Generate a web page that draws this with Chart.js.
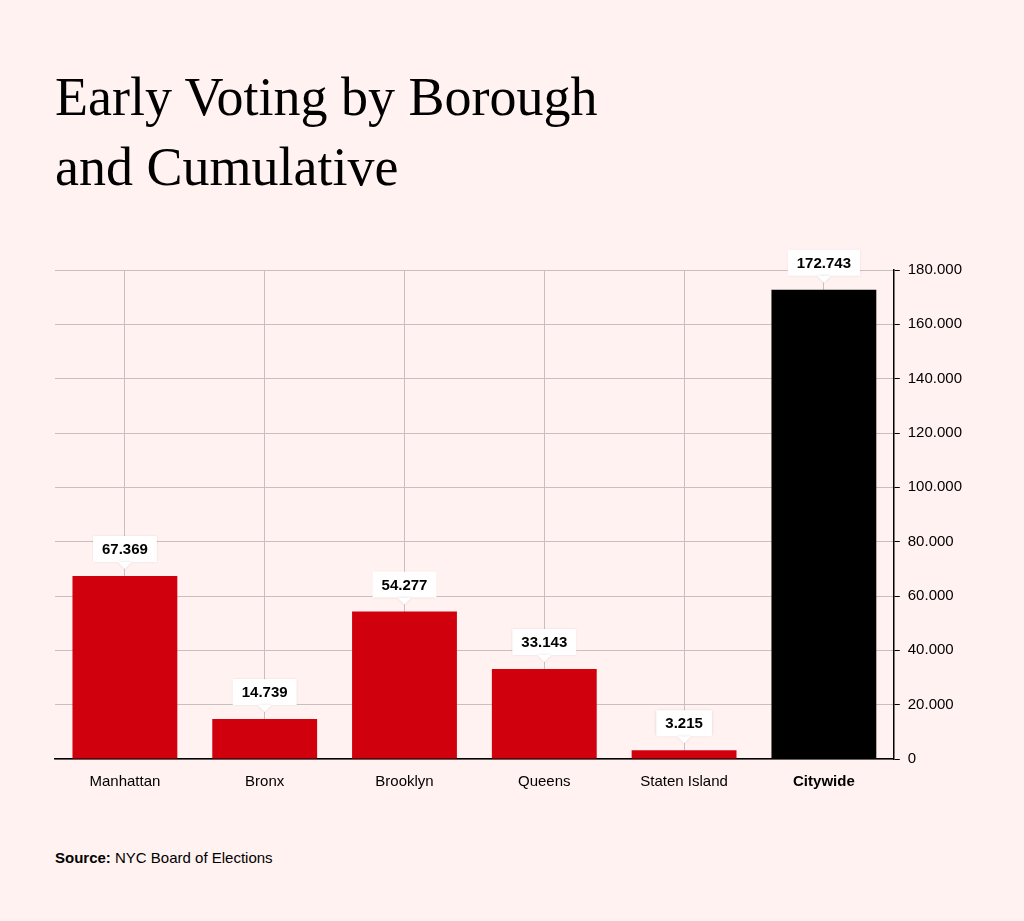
<!DOCTYPE html>
<html>
<head>
<meta charset="utf-8">
<script src="https://cdn.jsdelivr.net/npm/chart.js@4"></script>
<style>
  body { margin: 0; background: #fff2f1; width: 1024px; height: 921px; position: relative; font-family: "Liberation Sans", Arial, sans-serif; }
  h1 { position: absolute; left: 55px; top: 62px; margin: 0; font-family: "Liberation Serif", "Times New Roman", serif; font-weight: normal; font-size: 54px; line-height: 70px; color: #000; }
  #wrap { position: absolute; left: 40px; top: 240px; width: 930px; height: 565px; }
  .source { position: absolute; left: 55px; top: 849px; font-size: 15px; color: #000; }
</style>
</head>
<body>
<h1>Early Voting by Borough<br>and Cumulative</h1>
<div id="wrap"><canvas id="chart"></canvas></div>
<div class="source"><b>Source:</b> NYC Board of Elections</div>
<script>
const categories = ['Manhattan', 'Bronx', 'Brooklyn', 'Queens', 'Staten Island', 'Citywide'];
const votes = [67369, 14739, 54277, 33143, 3215, 172743];
const barColors = ['#d0000c', '#d0000c', '#d0000c', '#d0000c', '#d0000c', '#000000'];

const fmt = v => v.toLocaleString('de-DE');

const labelBoxes = {
    id: 'labelBoxes',
    afterDatasetsDraw(chart) {
        const ctx = chart.ctx;
        const meta = chart.getDatasetMeta(0);
        ctx.save();
        ctx.font = 'bold 15px "Liberation Sans", Arial, sans-serif';
        ctx.textAlign = 'center';
        ctx.textBaseline = 'middle';
        meta.data.forEach((bar, i) => {
            const text = fmt(votes[i]);
            const w = ctx.measureText(text).width + 18;
            const h = 26;
            const x = bar.x;
            const yb = bar.y - 14;
            ctx.fillStyle = '#fff';
            ctx.shadowColor = 'rgba(0,0,0,0.12)';
            ctx.shadowBlur = 3;
            ctx.beginPath();
            ctx.rect(x - w / 2, yb - h, w, h);
            ctx.fill();
            ctx.beginPath();
            ctx.moveTo(x - 7, yb);
            ctx.lineTo(x, yb + 7);
            ctx.lineTo(x + 7, yb);
            ctx.fill();
            ctx.shadowBlur = 0;
            ctx.fillStyle = '#000';
            ctx.fillText(text, x, yb - h / 2 + 1);
        });
        ctx.restore();
    }
};

new Chart(document.getElementById('chart'), {
    type: 'bar',
    data: {
        labels: categories,
        datasets: [{
            data: votes,
            backgroundColor: barColors,
            categoryPercentage: 1,
            barPercentage: 0.75
        }]
    },
    options: {
        responsive: true,
        maintainAspectRatio: false,
        animation: false,
        layout: { padding: { left: 15, top: 30 } },
        plugins: { legend: { display: false }, tooltip: { enabled: false } },
        scales: {
            x: {
                grid: { color: '#c8c0c0', borderDash: [3, 3], drawTicks: false, offset: false },
                border: { color: '#000', width: 1.5 },
                ticks: {
                    color: '#000',
                    padding: 14,
                    font: ctx => ({ size: 15, family: '"Liberation Sans", Arial, sans-serif', weight: ctx.index === 5 ? 'bold' : 'normal' })
                }
            },
            y: {
                position: 'right',
                min: 0,
                max: 180000,
                ticks: {
                    stepSize: 20000,
                    color: '#000',
                    padding: 8,
                    font: { size: 15, family: '"Liberation Sans", Arial, sans-serif' },
                    callback: v => fmt(v)
                },
                grid: { color: '#c8c0c0', drawTicks: true, tickLength: 6, tickColor: '#000' },
                border: { color: '#000', width: 1.5, dash: [] }
            }
        }
    },
    plugins: [labelBoxes]
});

// dashed grid via borderDash on grid lines
Chart.defaults.scale.grid.borderDash = [3, 3];
</script>
</body>
</html>
